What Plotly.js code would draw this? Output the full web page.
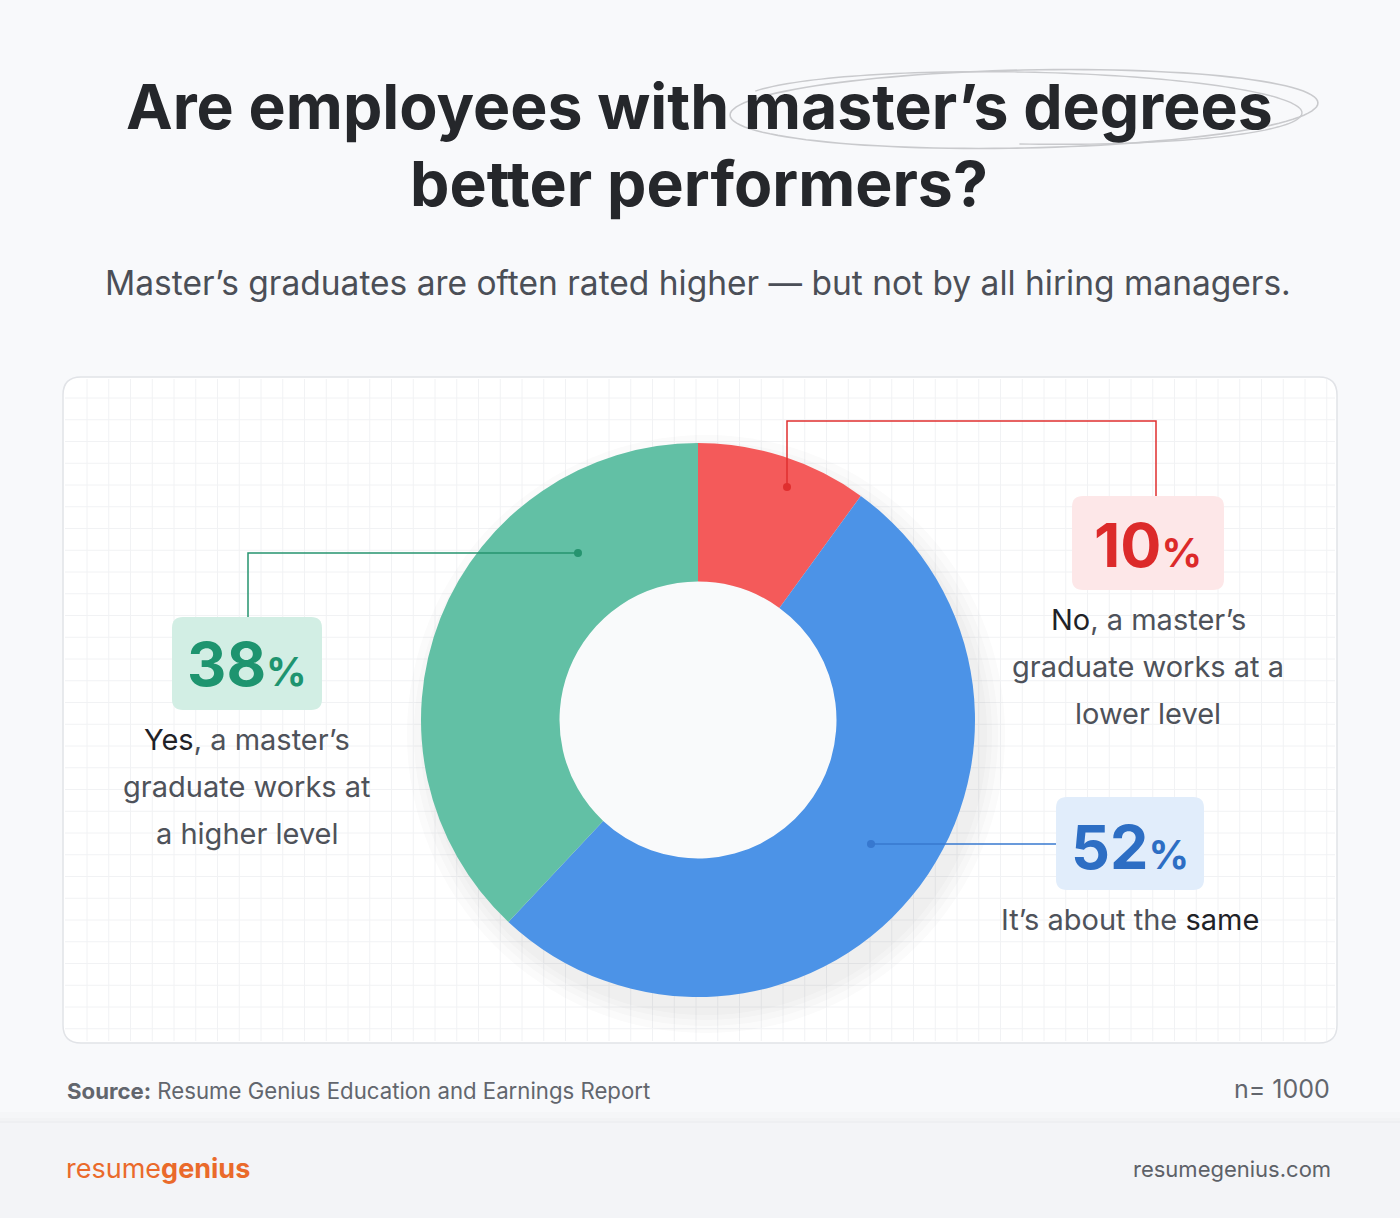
<!DOCTYPE html>
<html>
<head>
<meta charset="utf-8">
<script src="https://cdn.plot.ly/plotly-3.0.1.min.js"></script>
<style>
  html,body{margin:0;padding:0;background:#f8f9fb;}
  #chart{width:1400px;height:1218px;}
</style>
</head>
<body>
<div id="chart"></div>
<script>
// ---- data ----
const categories = ["No, a master's graduate works at a lower level", "It's about the same", "Yes, a master's graduate works at a higher level"];
const shortNames = ["No", "Same", "Yes"];
const values = [10, 52, 38];
const sliceColors = ["#f45a5a", "#4c93e7", "#62c0a5"];
const pctColors = ["#dc2a2a", "#2d6ec4", "#1e946f"];
const pctBoxColors = ["#fde7e8", "#e1edfb", "#d2eee4"];
const titleLines = ["Are employees with master\u2019s degrees", "better performers?"];
const subtitleText = "Master\u2019s graduates are often rated higher \u2014 but not by all hiring managers.";
const sourceText = "Source:";
const sourceRest = "Resume Genius Education and Earnings Report";
const sampleText = "n= 1000";

const W = 1400, H = 1218;
const cx = 698, cy = 720, R = 277;

function rr(x0, y0, x1, y1, r) {
  return `M${x0 + r},${y0} L${x1 - r},${y0} Q${x1},${y0} ${x1},${y0 + r} L${x1},${y1 - r} Q${x1},${y1} ${x1 - r},${y1} L${x0 + r},${y1} Q${x0},${y1} ${x0},${y1 - r} L${x0},${y0 + r} Q${x0},${y0} ${x0 + r},${y0} Z`;
}
function ellipsePath(ecx, ecy, rx, ry, rotDeg, startDeg, sweepDeg) {
  const a = rotDeg * Math.PI / 180;
  let pts = [];
  for (let i = 0; i <= 120; i++) {
    const t = (startDeg + sweepDeg * i / 120) * Math.PI / 180;
    const ex = rx * Math.cos(t), ey = ry * Math.sin(t);
    pts.push([ecx + ex * Math.cos(a) - ey * Math.sin(a), ecy + ex * Math.sin(a) + ey * Math.cos(a)]);
  }
  return 'M' + pts.map(p => p[0].toFixed(1) + ',' + p[1].toFixed(1)).join(' L');
}

const shapes = [];
// footer band
shapes.push({type: 'rect', xref: 'x', yref: 'y', x0: 0, x1: W, y0: 1112, y1: 1122, fillcolor: 'rgba(0,0,0,0.012)', line: {width: 0}, layer: 'below'});
shapes.push({type: 'rect', xref: 'x', yref: 'y', x0: 0, x1: W, y0: 1118, y1: 1122, fillcolor: 'rgba(0,0,0,0.012)', line: {width: 0}, layer: 'below'});
shapes.push({type: 'rect', xref: 'x', yref: 'y', x0: 0, x1: W, y0: 1122, y1: H, fillcolor: '#f3f4f7', line: {width: 0}, layer: 'below'});
shapes.push({type: 'line', xref: 'x', yref: 'y', x0: 0, x1: W, y0: 1122, y1: 1122, line: {color: '#eceef1', width: 1.5}, layer: 'below'});
// card
const c0x = 63, c0y = 377, c1x = 1337, c1y = 1043;
shapes.push({type: 'path', xref: 'x', yref: 'y', path: rr(c0x, c0y, c1x, c1y, 18), fillcolor: '#ffffff', line: {color: '#e1e3e7', width: 1.5}, layer: 'below'});
// grid
for (let x = 87; x < c1x - 2; x += 21.75) {
  shapes.push({type: 'line', xref: 'x', yref: 'y', x0: x, x1: x, y0: c0y + 2, y1: c1y - 2, line: {color: '#f1f2f4', width: 1}, layer: 'below'});
}
for (let y = 398; y < c1y - 2; y += 21.75) {
  shapes.push({type: 'line', xref: 'x', yref: 'y', x0: c0x + 2, x1: c1x - 2, y0: y, y1: y, line: {color: '#f1f2f4', width: 1}, layer: 'below'});
}
// soft shadow under donut (offset down-right)
[22, 15, 9, 4].forEach((d) => {
  shapes.push({type: 'circle', xref: 'x', yref: 'y', x0: cx - R - d + 8, x1: cx + R + d + 8, y0: cy - R - d + 14, y1: cy + R + d + 14, fillcolor: 'rgba(40,50,70,0.02)', line: {width: 0}, layer: 'below'});
});
// hole fill
shapes.push({type: 'circle', xref: 'x', yref: 'y', x0: cx - 139, x1: cx + 139, y0: cy - 139, y1: cy + 139, fillcolor: '#f9fafb', line: {width: 0}, layer: 'below'});

// title scribble ellipse
shapes.push({type: 'path', xref: 'x', yref: 'y', path: ellipsePath(1024, 109, 294, 39, -1.2, 150, 360), line: {color: '#c9cacd', width: 1.6}, layer: 'below'});
shapes.push({type: 'path', xref: 'x', yref: 'y', path: ellipsePath(1020, 108, 282, 36, 1.0, 200, 250), line: {color: '#c9cacd', width: 1.4}, layer: 'below'});

// percentage boxes
const boxes = [[1072, 496, 1224, 590], [1056, 797, 1204, 890], [172, 617, 322, 710]];
boxes.forEach((b, i) => {
  shapes.push({type: 'path', xref: 'x', yref: 'y', path: rr(b[0], b[1], b[2], b[3], 11), fillcolor: pctBoxColors[i], line: {width: 0}, layer: 'above'});
});
// callout lines
const callouts = [
  {path: 'M787,487 L787,421 L1156,421 L1156,496', dot: [787, 487], color: '#e02f2f'},
  {path: 'M871,844 L1056,844', dot: [871, 844], color: '#3778cf'},
  {path: 'M578,553 L248,553 L248,617', dot: [578, 553], color: '#26946f'}
];
callouts.forEach(c => {
  shapes.push({type: 'path', xref: 'x', yref: 'y', path: c.path, line: {color: c.color, width: 1.5}, layer: 'above'});
  shapes.push({type: 'circle', xref: 'x', yref: 'y', x0: c.dot[0] - 4, x1: c.dot[0] + 4, y0: c.dot[1] - 4, y1: c.dot[1] + 4, fillcolor: c.color, line: {width: 0}, layer: 'above'});
});

const annotations = [];
function ann(x, y, text, opts) {
  annotations.push(Object.assign({xref: 'x', yref: 'y', x: x, y: y, text: text, showarrow: false, xanchor: 'center', yanchor: 'middle'}, opts || {}));
}
const bodyFont = {family: 'Inter, "Noto Sans", sans-serif', size: 29, color: '#4e525a'};
const geoFont = 'Inter, "Noto Sans", sans-serif';

ann(699, 106, `<b>${titleLines[0]}</b>`, {font: {family: geoFont, size: 62.5, color: '#25272b'}});
ann(699, 183, `<b>${titleLines[1]}</b>`, {font: {family: geoFont, size: 62.5, color: '#25272b'}});
ann(698, 283, subtitleText, {font: {family: 'Inter, sans-serif', size: 33.5, color: '#4b4f57'}});

// percentages
const pctCenters = [[1148, 545], [1130, 847], [247, 664]];
values.forEach((v, i) => {
  ann(pctCenters[i][0], pctCenters[i][1], `<b>${v}<span style="font-size:40px">%</span></b>`, {font: {family: geoFont, size: 61, color: pctColors[i]}});
});
const dark = '#1f2227';
// No label
ann(1148, 619, `<span style="color:${dark}">No</span>, a master\u2019s`, {font: bodyFont});
ann(1148, 666, 'graduate works at a', {font: bodyFont});
ann(1148, 713, 'lower level', {font: bodyFont});
// Same label
ann(1130, 919, `It\u2019s about the <span style="color:${dark}">same</span>`, {font: bodyFont});
// Yes label
ann(247, 739, `<span style="color:${dark}">Yes</span>, a master\u2019s`, {font: bodyFont});
ann(247, 786, 'graduate works at', {font: bodyFont});
ann(247, 833, 'a higher level', {font: bodyFont});

// source
ann(65, 1090, `<b>${sourceText}</b> ${sourceRest}`, {xanchor: 'left', font: {family: 'Inter, sans-serif', size: 22.2, color: '#62666d'}});
ann(1332, 1089, sampleText, {xanchor: 'right', font: {family: 'Inter, sans-serif', size: 25, color: '#62666d'}});
// footer
ann(64, 1168, 'resume<b>genius</b>', {xanchor: 'left', font: {family: 'Inter, sans-serif', size: 27, color: '#ea6a2b'}});
ann(1333, 1169, 'resumegenius.com', {xanchor: 'right', font: {family: 'Inter, sans-serif', size: 22, color: '#5d6168'}});

const trace = {
  type: 'pie',
  labels: categories,
  values: values,
  hole: 0.5,
  sort: false,
  direction: 'clockwise',
  rotation: 0,
  marker: {colors: sliceColors, line: {width: 0}},
  textinfo: 'none',
  hoverinfo: 'label+percent',
  showlegend: false,
  domain: {x: [(cx - R) / W, (cx + R) / W], y: [(H - cy - R) / H, (H - cy + R) / H]}
};

const layout = {
  width: W, height: H,
  margin: {l: 0, r: 0, t: 0, b: 0},
  paper_bgcolor: '#f8f9fb',
  plot_bgcolor: 'rgba(0,0,0,0)',
  xaxis: {range: [0, W], visible: false, fixedrange: true, showgrid: false, zeroline: false},
  yaxis: {range: [H, 0], visible: false, fixedrange: true, showgrid: false, zeroline: false},
  shapes: shapes,
  annotations: annotations,
  showlegend: false
};

Plotly.newPlot('chart', [trace], layout, {displayModeBar: false, staticPlot: true});
</script>
</body>
</html>
